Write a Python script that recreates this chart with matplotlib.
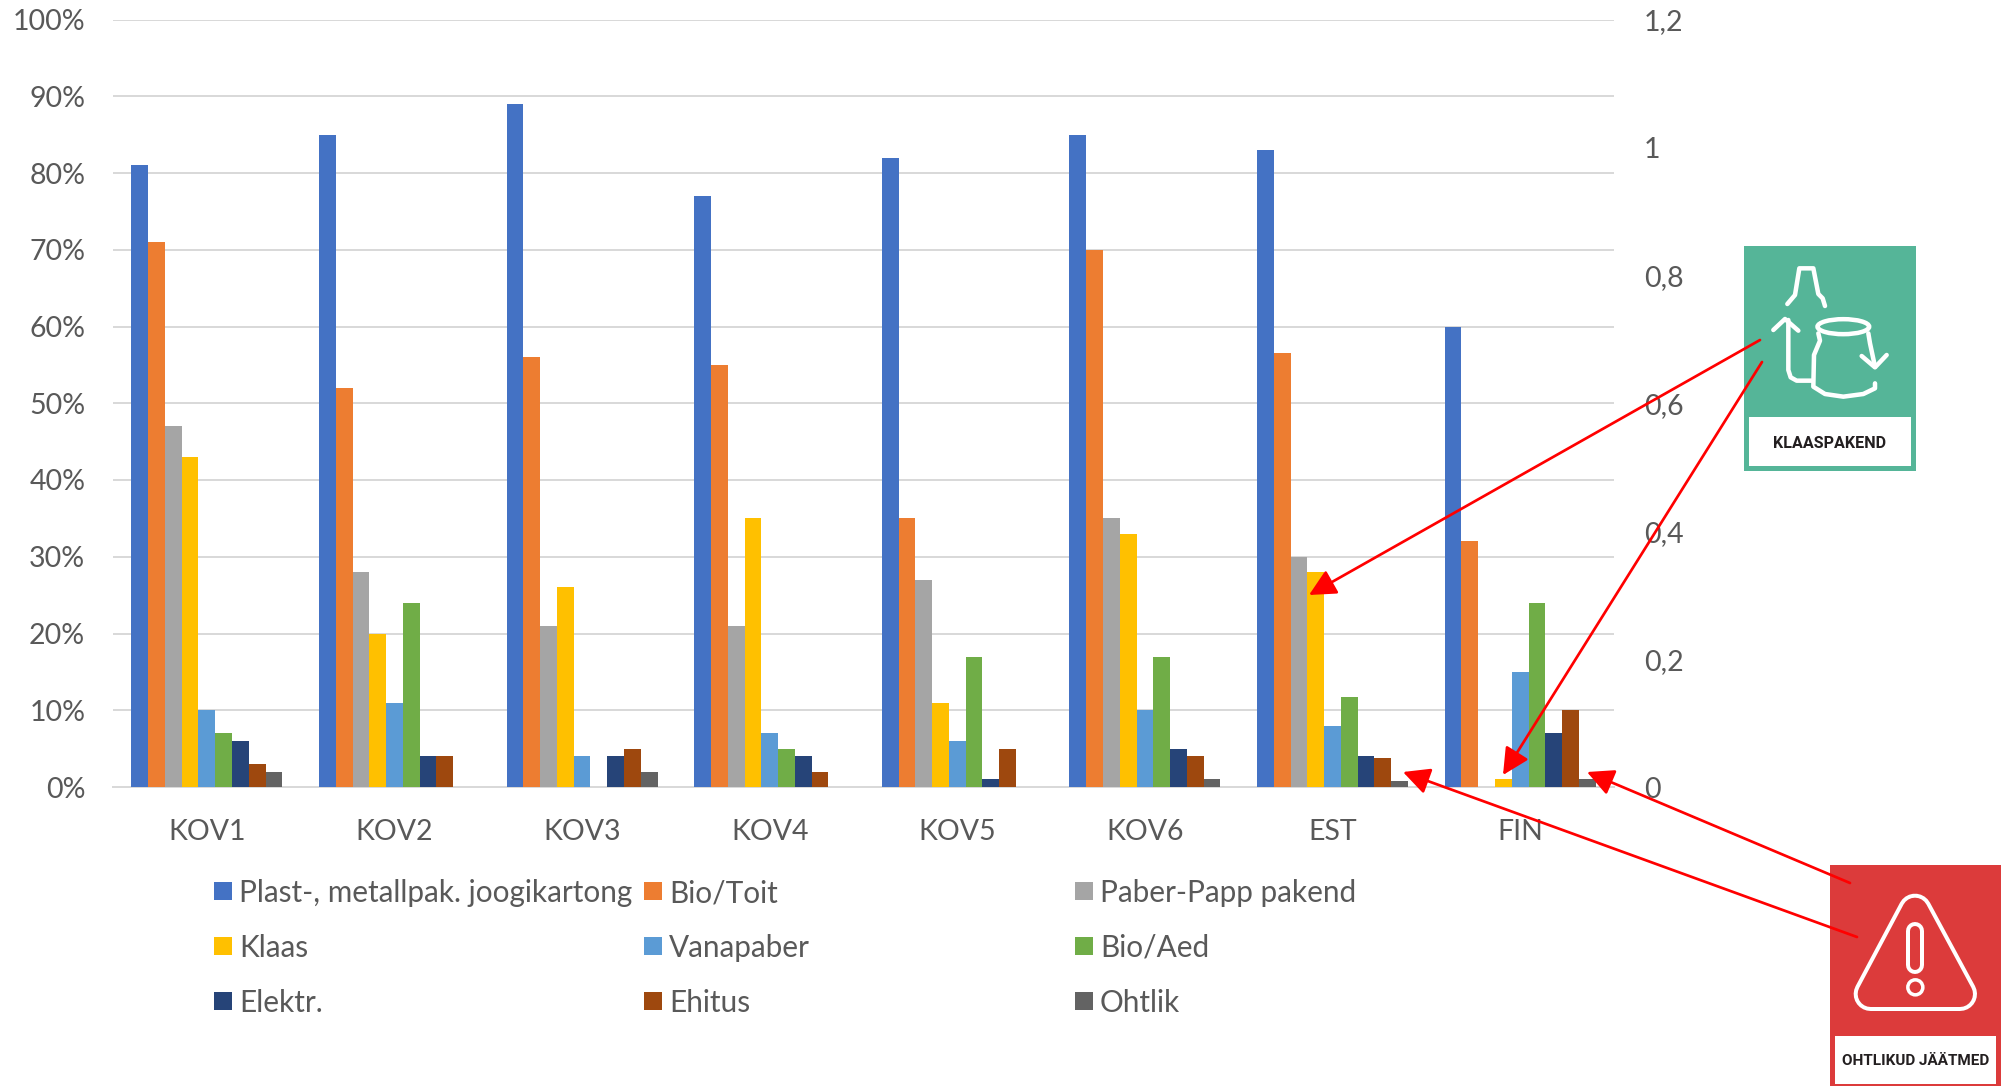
import numpy as np
import matplotlib
matplotlib.use('Agg')
import matplotlib.pyplot as plt
from matplotlib.patches import Rectangle, Circle, Ellipse, Polygon

W, H = 2010, 1086
DPI = 100
plt.rcParams['font.family'] = ['Lato', 'DejaVu Sans']

categories = ['KOV1', 'KOV2', 'KOV3', 'KOV4', 'KOV5', 'KOV6', 'EST', 'FIN']
series_names = ['Plast-, metallpak. joogikartong', 'Bio/Toit', 'Paber-Papp pakend',
                'Klaas', 'Vanapaber', 'Bio/Aed',
                'Elektr.', 'Ehitus', 'Ohtlik']
colors = ['#4472C4', '#ED7D31', '#A5A5A5', '#FFC000', '#5B9BD5', '#70AD47',
          '#264478', '#9E480E', '#636363']

plast = [81, 85, 89, 77, 82, 85, 83, 60]
bio_toit = [71, 52, 56, 55, 35, 70, 56.5, 32]
paber = [47, 28, 21, 21, 27, 35, 30, 0]
klaas = [43, 20, 26, 35, 11, 33, 28, 1]
vanapaber = [10, 11, 4, 7, 6, 10, 8, 15]
bio_aed = [7, 24, 0, 5, 17, 17, 11.7, 24]
elektr = [6, 4, 4, 4, 1, 5, 4, 7]
ehitus = [3, 4, 5, 2, 5, 4, 3.8, 10]
ohtlik = [2, 0, 2, 0, 0, 1, 0.8, 1]
all_series = [plast, bio_toit, paber, klaas, vanapaber, bio_aed, elektr, ehitus, ohtlik]

left_ticks = list(range(0, 101, 10))
right_ticks = [0, 0.2, 0.4, 0.6, 0.8, 1, 1.2]
right_labels = ['0', '0,2', '0,4', '0,6', '0,8', '1', '1,2']

GREY = '#595959'
GRID = '#D9D9D9'
FS = 20.5
LEGEND_FS = 21.4
ICON_FONT = ['Roboto', 'DejaVu Sans']


def px(w):
    # pixels to points
    return w * 72 / DPI


fig = plt.figure(figsize=(W / DPI, H / DPI), dpi=DPI)
ax = fig.add_axes([113 / W, 1 - 787 / H, (1614 - 113) / W, (787 - 19.5) / H])

bar_w = 0.0894
x = np.arange(len(categories))
for i, (vals, col) in enumerate(zip(all_series, colors)):
    ax.bar(x + (i - 4) * bar_w, vals, bar_w, color=col, zorder=3)

ax.set_xlim(-0.5, 7.5)
ax.set_ylim(0, 100)
ax.set_xticks(x)
ax.set_xticklabels(categories)
ax.set_yticks(left_ticks)
ax.set_yticklabels([f'{t}%' for t in left_ticks])
ax.grid(axis='y', color=GRID, lw=px(2))
ax.set_axisbelow(True)
ax.tick_params(axis='both', length=0, labelsize=FS, labelcolor=GREY)
ax.tick_params(axis='x', pad=23)
ax.tick_params(axis='y', pad=20)
for name in ['top', 'left', 'right']:
    ax.spines[name].set_visible(False)
ax.spines['bottom'].set_color(GRID)
ax.spines['bottom'].set_linewidth(px(2))

ax2 = ax.twinx()
ax2.set_ylim(0, 1.2)
ax2.set_yticks(right_ticks)
ax2.set_yticklabels(right_labels)
ax2.tick_params(axis='y', length=0, labelsize=FS, labelcolor=GREY, pad=21.5)
for name in ['top', 'left', 'right', 'bottom']:
    ax2.spines[name].set_visible(False)

# overlay in image pixels for legend, pictograms and arrows
ov = fig.add_axes([0, 0, 1, 1], zorder=10)
ov.set_xlim(0, W)
ov.set_ylim(H, 0)
ov.axis('off')

legend_x = [214, 644, 1075]
legend_y = [891, 946, 1001]
for i, (name, col) in enumerate(zip(series_names, colors)):
    lx = legend_x[i % 3]
    ly = legend_y[i // 3]
    ov.add_patch(Rectangle((lx, ly - 9), 18, 18, color=col, lw=0))
    ov.text(lx + 25, ly + 2, name, fontsize=LEGEND_FS, color=GREY, va='center', ha='left')

# green pictogram
ov.add_patch(Rectangle((1744, 246), 172, 225, color='#55B598', lw=0))
ov.add_patch(Rectangle((1749, 417), 162, 49, color='white', lw=0))
ov.text(1830, 443, 'KLAASPAKEND', fontsize=11.6, fontweight='bold', color='#231F20',
        ha='center', va='center', family=ICON_FONT)


def z1(pts):
    a = np.array(pts, dtype=float)
    return a[:, 0] / 3 + 1700, a[:, 1] / 3 + 220


def z2(pts):
    a = np.array(pts, dtype=float)
    return a[:, 0] / 3 + 1780, a[:, 1] / 3 + 840


white = dict(color='white', lw=px(4.5), solid_capstyle='round', solid_joinstyle='round')
green_shapes = [
    [(262, 252), (285, 225), (298, 145), (340, 145), (355, 222), (368, 235), (375, 258)],
    [(265, 300), (265, 450), (272, 472), (290, 482), (335, 482)],
    [(220, 330), (255, 297), (295, 332)],
    [(355, 340), (360, 362), (342, 405), (340, 500), (375, 522), (430, 530), (490, 522), (525, 505), (525, 490)],
    [(505, 340), (510, 370), (525, 440)],
    [(485, 408), (525, 442), (560, 405)],
]
for shape in green_shapes:
    ov.plot(*z1(shape), **white)
ov.add_patch(Ellipse((1700 + 430 / 3, 220 + 320 / 3), 155 / 3, 45 / 3, fc='none', ec='white', lw=px(4.5)))

# red pictogram
ov.add_patch(Rectangle((1830, 865), 171, 221, color='#DC3B3B', lw=0))
ov.add_patch(Rectangle((1835, 1036), 161, 48, color='white', lw=0))
ov.text(1915.5, 1061, 'OHTLIKUD JÄÄTMED', fontsize=11, fontweight='bold', color='#231F20',
        ha='center', va='center', family=ICON_FONT)

tri_x, tri_y = z2([(405, 212), (272, 462), (540, 462)])
tri = np.column_stack([tri_x, tri_y])
ov.add_patch(Polygon(tri, closed=True, fc='white', ec='white', lw=px(34), joinstyle='round'))
ov.add_patch(Polygon(tri, closed=True, fc='#DC3B3B', ec='#DC3B3B', lw=px(26), joinstyle='round'))
ex_x, ex_y = z2([(406, 272), (406, 375)])
ov.plot(ex_x, ex_y, color='white', lw=px(18), solid_capstyle='round')
ov.plot(ex_x, ex_y, color='#DC3B3B', lw=px(10), solid_capstyle='round')
ov.add_patch(Circle((1780 + 406 / 3, 840 + 442 / 3), 7.5, fc='#DC3B3B', ec='white', lw=px(3.5)))

# red arrows
arrow_starts = [(1760, 340), (1762, 362), (1850, 883), (1857, 937)]
arrow_tips = [(1309, 595), (1503, 775), (1587, 772), (1403, 772)]
for st, tip in zip(arrow_starts, arrow_tips):
    ov.annotate('', xy=tip, xytext=st, xycoords='data', textcoords='data',
                arrowprops=dict(arrowstyle='-|>,head_length=0.9,head_width=0.45', color='#FF0000',
                                lw=px(2.7), shrinkA=0, shrinkB=0, mutation_scale=18))

fig.savefig('out.png', dpi=DPI, facecolor='white')
